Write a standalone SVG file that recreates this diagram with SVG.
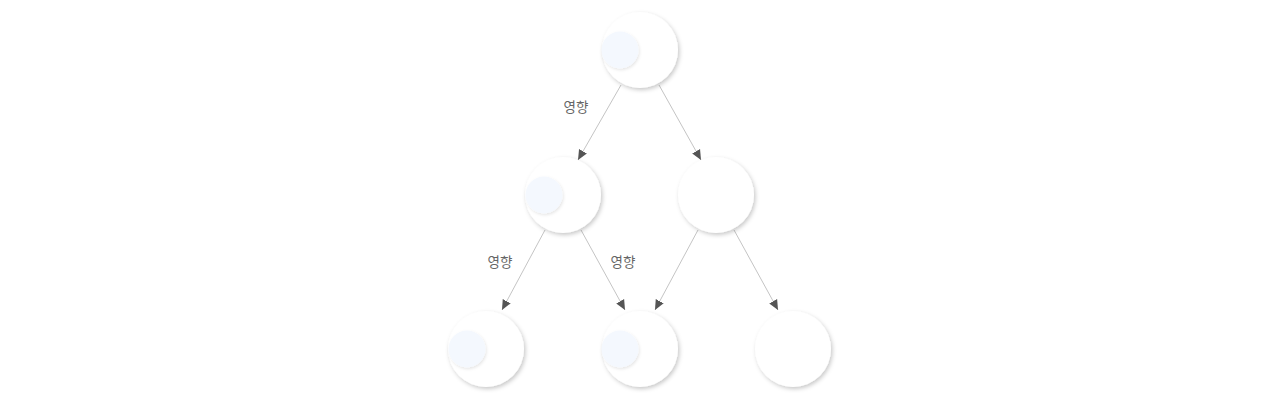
<svg xmlns="http://www.w3.org/2000/svg" width="1280" height="400" viewBox="0 0 1280 400">
<defs>
<filter id="sh" x="-30%" y="-30%" width="160%" height="160%">
<feDropShadow dx="1.5" dy="2" stdDeviation="2.2" flood-color="#000" flood-opacity="0.22"/>
</filter>
<filter id="sh2" x="-30%" y="-30%" width="160%" height="160%">
<feDropShadow dx="1" dy="1.5" stdDeviation="1.5" flood-color="#000" flood-opacity="0.1"/>
</filter>
<marker id="ah" viewBox="0 0 10 10" refX="10" refY="5" markerWidth="10" markerHeight="10" markerUnits="userSpaceOnUse" orient="auto">
<path d="M0,0.5 L10,5 L0,9.5 z" fill="#555"/>
</marker>
<style>
.node{fill:#fff;filter:url(#sh)}
.inner{fill:#f4f8fe;filter:url(#sh2)}
.edge{stroke:#c4c4c4;stroke-width:1;fill:none;marker-end:url(#ah)}
.lbl{font-family:"Noto Sans CJK KR","Noto Sans",sans-serif;font-size:13.5px;fill:#666}
</style>
</defs>
<rect width="1280" height="400" fill="#fff"/>
<g id="connectors">
<line class="edge" x1="621" y1="85" x2="578" y2="160"/>
<line class="edge" x1="659" y1="85" x2="701" y2="160"/>
<line class="edge" x1="545" y1="230" x2="502" y2="310"/>
<line class="edge" x1="581" y1="230" x2="625" y2="310"/>
<line class="edge" x1="698" y1="230" x2="655" y2="310"/>
<line class="edge" x1="734" y1="230" x2="778" y2="310"/>
<text class="lbl" x="576" y="112" text-anchor="middle">영향</text>
<text class="lbl" x="500" y="267" text-anchor="middle">영향</text>
<text class="lbl" x="623" y="267" text-anchor="middle">영향</text>
</g>
<g id="n1"><circle class="node" cx="640" cy="50" r="38"/><circle class="inner" cx="620" cy="50" r="18.5"/></g>
<g id="n2"><circle class="node" cx="563" cy="195" r="38"/><circle class="inner" cx="544" cy="195" r="18.5"/></g>
<g id="n3"><circle class="node" cx="716" cy="195" r="38"/></g>
<g id="n4"><circle class="node" cx="486" cy="349" r="38"/><circle class="inner" cx="467" cy="349" r="18.5"/></g>
<g id="n5"><circle class="node" cx="640" cy="349" r="38"/><circle class="inner" cx="620" cy="349" r="18.5"/></g>
<g id="n6"><circle class="node" cx="793" cy="349" r="38"/></g>
</svg>
